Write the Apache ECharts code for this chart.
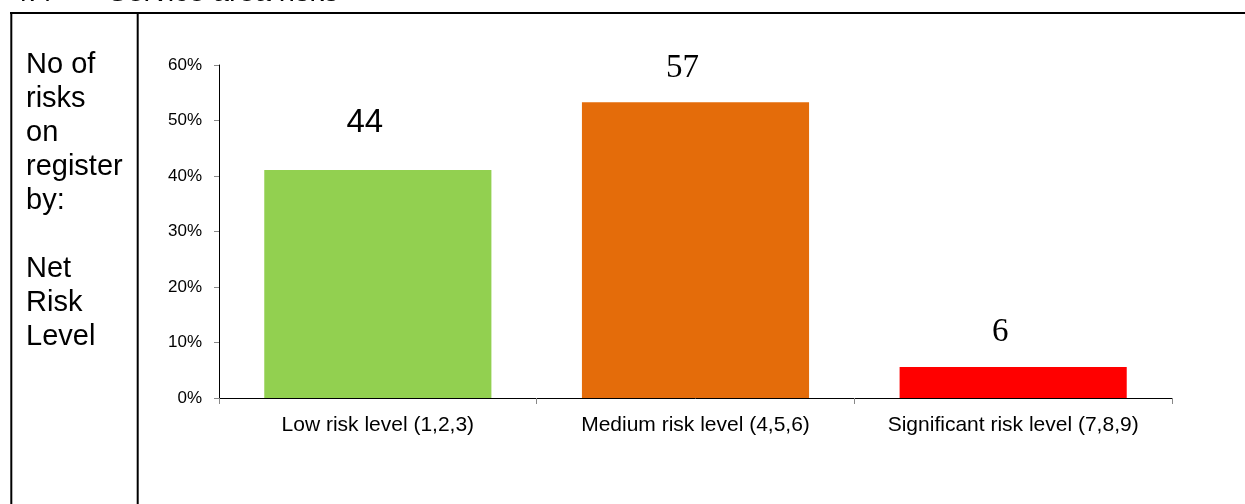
<!DOCTYPE html>
<html>
<head>
<meta charset="utf-8">
<script src="https://cdn.jsdelivr.net/npm/echarts@6/dist/echarts.min.js"></script>
<style>
html,body{margin:0;padding:0;background:#fff;}
#main{width:1245px;height:504px;}
</style>
</head>
<body>
<div id="main"></div>
<script>
// Data
var categories = ['Low risk level (1,2,3)', 'Medium risk level (4,5,6)', 'Significant risk level (7,8,9)'];
var riskCounts = [44, 57, 6];
var riskPercent = [41.1, 53.3, 5.6];
var barColors = ['#92D050', '#E46C0A', '#FF0000'];
var yTicks = [0, 10, 20, 30, 40, 50, 60];
var sideText = ['No of', 'risks', 'on', 'register', 'by:', '', 'Net', 'Risk', 'Level'];
var headingNumber = '4.4';
var headingText = 'Service area risks';

var labelFonts = ['"Liberation Sans", Arial, sans-serif', '"Liberation Serif", "Times New Roman", serif', '"Liberation Serif", "Times New Roman", serif'];
var labelDistances = [30, 17, 18];

var chart = echarts.init(document.getElementById('main'), null, {renderer: 'canvas'});

var seriesData = riskPercent.map(function (v, i) {
  return {
    value: v,
    itemStyle: {color: barColors[i]},
    label: {
      show: true,
      position: 'top',
      distance: labelDistances[i],
      offset: [-13, 0],
      formatter: function () { return String(riskCounts[i]); },
      fontFamily: labelFonts[i],
      fontSize: 33,
      color: '#000'
    }
  };
});

var option = {
  animation: false,
  backgroundColor: '#fff',
  grid: {left: 219, right: 73, top: 65, bottom: 106, containLabel: false},
  xAxis: {
    type: 'category',
    data: categories,
    axisLine: {show: true, lineStyle: {color: '#000', width: 1}},
    axisTick: {show: true, interval: 0, alignWithLabel: false, length: 6, lineStyle: {color: '#888'}},
    axisLabel: {
      interval: 0,
      hideOverlap: false,
      margin: 17,
      fontFamily: '"Liberation Sans", Arial, sans-serif',
      fontSize: 21,
      color: '#000'
    },
    splitLine: {show: false}
  },
  yAxis: {
    type: 'value',
    min: yTicks[0],
    max: yTicks[yTicks.length - 1],
    interval: 10,
    axisLine: {show: true, lineStyle: {color: '#000', width: 1}},
    axisTick: {show: true, length: 5, lineStyle: {color: '#888'}},
    axisLabel: {
      margin: 17,
      formatter: '{value}%',
      fontFamily: '"Liberation Sans", Arial, sans-serif',
      fontSize: 17,
      color: '#000'
    },
    splitLine: {show: false}
  },
  series: [{
    type: 'bar',
    data: seriesData,
    barCategoryGap: '28.5%'
  }],
  graphic: [
    {type: 'line', shape: {x1: 10, y1: 13, x2: 1245, y2: 13}, style: {stroke: '#000', lineWidth: 2}, silent: true},
    {type: 'line', shape: {x1: 11.3, y1: 12, x2: 11.3, y2: 504}, style: {stroke: '#000', lineWidth: 2}, silent: true},
    {type: 'line', shape: {x1: 137.7, y1: 12, x2: 137.7, y2: 504}, style: {stroke: '#000', lineWidth: 2}, silent: true},
    {type: 'text', left: 12, top: -22, style: {text: headingNumber, font: '29px "Liberation Sans", Arial, sans-serif', fill: '#000'}, silent: true},
    {type: 'text', left: 108, top: -22, style: {text: headingText, font: '29px "Liberation Sans", Arial, sans-serif', fill: '#000'}, silent: true},
    {type: 'text', left: 26, top: 48, style: {text: sideText.join('\n'), font: '29px "Liberation Sans", Arial, sans-serif', lineHeight: 34, fill: '#000'}, silent: true}
  ]
};
chart.setOption(option);
</script>
</body>
</html>
